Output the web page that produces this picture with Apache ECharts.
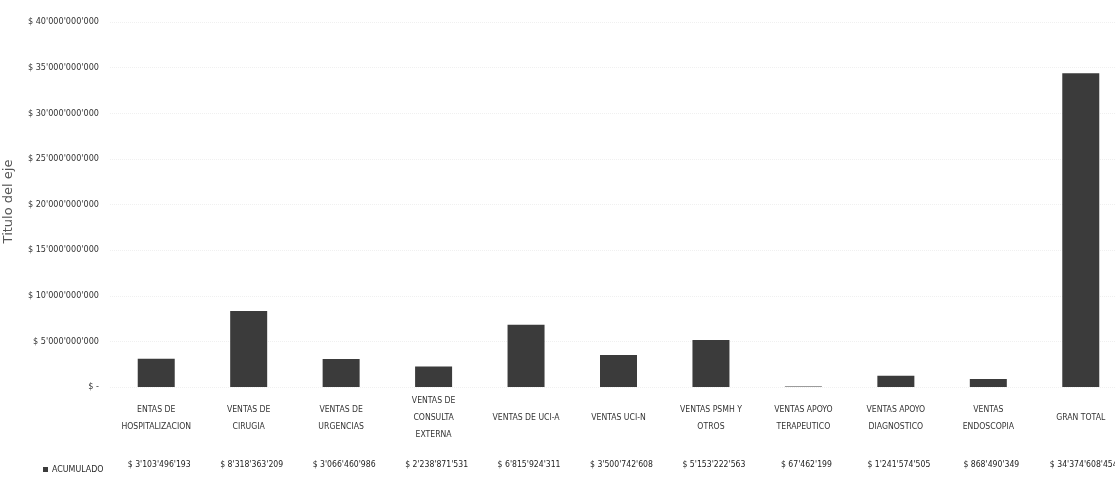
<!DOCTYPE html>
<html>
<head>
<meta charset="utf-8">
<script src="https://cdn.jsdelivr.net/npm/echarts@6/dist/echarts.min.js"></script>
<style>
html,body{margin:0;padding:0;background:#fff;overflow:hidden;width:1115px;height:478px;}
#c{width:1127px;height:478px;}
</style>
</head>
<body>
<div id="c"></div>
<script>
var categories = [
  'ENTAS DE\nHOSPITALIZACION',
  'VENTAS DE\nCIRUGIA',
  'VENTAS DE\nURGENCIAS',
  'VENTAS DE\nCONSULTA\nEXTERNA',
  'VENTAS DE UCI-A',
  'VENTAS UCI-N',
  'VENTAS PSMH Y\nOTROS',
  'VENTAS APOYO\nTERAPEUTICO',
  'VENTAS APOYO\nDIAGNOSTICO',
  'VENTAS\nENDOSCOPIA',
  'GRAN TOTAL'
];
var acumulado = [
  3103496193, 8318363209, 3066460986, 2238871531, 6815924311,
  3500742608, 5153222563, 67462199, 1241574505, 868490349, 34374608454
];
var seriesName = 'ACUMULADO';
var axisTitle = 'Titulo del eje';

function fmt(v) {
  if (v === 0) return '$ -';
  var s = String(Math.round(v));
  var out = '';
  while (s.length > 3) {
    out = "'" + s.slice(-3) + out;
    s = s.slice(0, -3);
  }
  return '$ ' + s + out;
}

var FONT = '"Liberation Sans Narrow", "DejaVu Sans Condensed", "Liberation Sans", sans-serif';
var chart = echarts.init(document.getElementById('c'), null, {renderer: 'canvas'});
chart.setOption({
  animation: false,
  backgroundColor: '#ffffff',
  textStyle: {fontFamily: FONT},
  legend: {
    left: 38, top: 460,
    icon: 'rect', itemWidth: 5, itemHeight: 5, itemGap: 4,
    data: [seriesName],
    textStyle: {fontFamily: FONT, fontSize: 8.8, color: '#2a2a2a', padding: [0,0,0,-1]}
  },
  grid: {left: 110, right: 0, top: 22, bottom: 91, containLabel: false, outerBoundsMode: 'none'},
  xAxis: [{
    type: 'category',
    data: categories,
    axisLine: {show: false},
    axisTick: {show: false},
    axisLabel: {
      interval: 0, margin: 31, verticalAlign: 'middle',
      fontFamily: FONT, fontSize: 8.6, color: '#333', lineHeight: 17
    }
  }, {
    type: 'category',
    data: categories,
    position: 'bottom',
    axisLine: {show: false},
    axisTick: {show: false},
    axisLabel: {
      interval: 0, margin: 78, verticalAlign: 'middle',
      fontFamily: FONT, fontSize: 8.6, color: '#222', padding: [0, 0, 0, 6],
      formatter: function (v, i) { return fmt(acumulado[i]); }
    }
  }],
  yAxis: {
    type: 'value', min: 0, max: 40000000000, interval: 5000000000,
    name: axisTitle, nameLocation: 'middle', nameRotate: 90, nameGap: 95,
    nameTextStyle: {fontFamily: '"DejaVu Sans", sans-serif', fontSize: 13, color: '#555', padding: [0, 0, 0, 6]},
    axisLine: {show: false},
    axisTick: {show: false},
    splitLine: {show: true, lineStyle: {color: '#f0f0f0', type: 'dotted', width: 1}},
    axisLabel: {
      margin: 11, fontFamily: FONT, fontSize: 9, color: '#333',
      formatter: function (v) { return fmt(v); }
    }
  },
  series: [{
    name: seriesName,
    type: 'bar',
    xAxisIndex: 0,
    data: acumulado,
    barWidth: 37,
    itemStyle: {color: '#3b3b3b'}
  }]
});
</script>
</body>
</html>
